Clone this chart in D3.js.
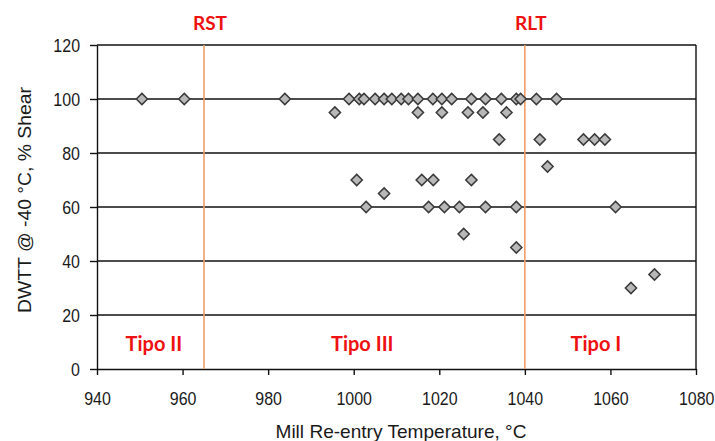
<!DOCTYPE html>
<html><head><meta charset="utf-8">
<script src="https://cdn.jsdelivr.net/npm/d3@7"></script>
<style>
html,body{margin:0;padding:0;background:#fff;}
svg{display:block;}
</style></head>
<body>
<svg id="chart" width="715" height="441"></svg>
<script>
// Data: mill re-entry temperature (°C) and DWTT shear (%)
const temps = [950.5,960.4,983.9,998.9,1001.3,1002.4,1005.0,1007.1,1008.9,1011.1,1012.8,1015.0,1018.5,1020.6,1022.9,1027.5,1030.8,1034.5,1038.0,1039.0,1042.7,1047.4,
  995.6,1015.0,1020.6,1026.7,1030.2,1035.7,
  1034.0,1043.5,1053.7,1056.3,1058.7,
  1045.3,
  1000.7,1015.9,1018.6,1027.5,
  1007.1,
  1002.9,1017.5,1021.2,1024.7,1030.8,1038.0,1061.2,
  1025.7,1038.0,1064.8,1070.3];
const shear = [100,100,100,100,100,100,100,100,100,100,100,100,100,100,100,100,100,100,100,100,100,100,
  95,95,95,95,95,95,
  85,85,85,85,85,
  75,
  70,70,70,70,
  65,
  60,60,60,60,60,60,60,
  50,45,30,35];
const xTicks = [940,960,980,1000,1020,1040,1060,1080];
const yTicks = [0,20,40,60,80,100,120];
const limitNames = ["RST","RLT"];
const limitTemps = [965,1040];
const regionNames = ["Tipo II","Tipo III","Tipo I"];
const regionCenters = [953.3,1002,1056.6];
const xTitle = "Mill Re-entry Temperature, °C";
const yTitle = "DWTT @ -40 °C, % Shear";

const W = 715, H = 441;
const m = {left:97, right:19, top:45, bottom:72};
const svg = d3.select("#chart");
const x = d3.scaleLinear().domain([940,1080]).range([m.left, W-m.right]);
const y = d3.scaleLinear().domain([0,120]).range([H-m.bottom, m.top]);

function condense(sel, factor){
  sel.each(function(){
    const w = this.getComputedTextLength();
    d3.select(this).attr("textLength", w*factor).attr("lengthAdjust","spacingAndGlyphs");
  });
}

// gridlines
svg.append("g").selectAll("line").data(yTicks.filter(d=>d>0)).join("line")
  .attr("x1", x(940)).attr("x2", x(1080))
  .attr("y1", d=>y(d)).attr("y2", d=>y(d))
  .attr("stroke","#111").attr("stroke-width",1.4);
// right border
svg.append("line").attr("x1",x(1080)).attr("x2",x(1080)).attr("y1",y(0)).attr("y2",y(120))
  .attr("stroke","#111").attr("stroke-width",1.4);

// axes
const fontAxis = "'Liberation Sans', Arial, sans-serif";
const xAxis = svg.append("g").attr("transform",`translate(0,${y(0)})`)
  .call(d3.axisBottom(x).tickValues(xTicks).tickFormat(d3.format("d")).tickSize(6).tickSizeOuter(0).tickPadding(17));
const yAxis = svg.append("g").attr("transform",`translate(${x(940)},0)`)
  .call(d3.axisLeft(y).tickValues(yTicks).tickFormat(d3.format("d")).tickSize(7).tickSizeOuter(0).tickPadding(10));
[xAxis,yAxis].forEach(a=>{
  a.select(".domain").attr("stroke","#111").attr("stroke-width",1.4);
  a.selectAll(".tick line").attr("stroke","#111").attr("stroke-width",1.4);
  a.selectAll(".tick text").attr("fill","#1a1a1a").style("font-family",fontAxis).style("font-size","19px")
    .call(condense, 0.84);
});
// keep the last x tick label inside the picture
xAxis.selectAll(".tick text").filter(d=>d===xTicks[xTicks.length-1])
  .attr("text-anchor","end").attr("x", W - 1 - x(xTicks[xTicks.length-1]));

// limit lines
svg.append("g").selectAll("line").data(limitTemps).join("line")
  .attr("x1",d=>x(d)).attr("x2",d=>x(d)).attr("y1",y(0)).attr("y2",y(120))
  .attr("stroke","#f0a068").attr("stroke-width",1.6);
svg.append("g").selectAll("text").data(limitNames).join("text")
  .attr("x",(d,i)=>x(limitTemps[i])+6).attr("y",30)
  .attr("text-anchor","middle").attr("fill","#ee1111")
  .style("font-family","Lato, 'Open Sans', sans-serif").style("font-weight","bold").style("font-size","19px")
  .text(d=>d);

// region labels
svg.append("g").selectAll("text").data(regionNames).join("text")
  .attr("x",(d,i)=>x(regionCenters[i])).attr("y",y(6.5))
  .attr("text-anchor","middle").attr("fill","#ee1111")
  .style("font-family","Lato, 'Open Sans', sans-serif").style("font-weight","bold").style("font-size","20px")
  .text(d=>d);

// points
const sym = d3.symbol().type(d3.symbolDiamond2).size(80);
svg.append("g").selectAll("path").data(temps).join("path")
  .attr("transform",(d,i)=>`translate(${x(d)},${y(shear[i])})`)
  .attr("d", sym)
  .attr("fill","#b8b8b8").attr("stroke","#3a3a3a").attr("stroke-width",1.5);

// titles
svg.append("text").attr("x",401).attr("y",438)
  .attr("text-anchor","middle").attr("fill","#1a1a1a")
  .style("font-family",fontAxis).style("font-size","19px")
  .attr("textLength",251).attr("lengthAdjust","spacingAndGlyphs").text(xTitle);
svg.append("text").attr("transform",`translate(31,200) rotate(-90)`)
  .attr("text-anchor","middle").attr("fill","#1a1a1a")
  .style("font-family",fontAxis).style("font-size","19px")
  .attr("textLength",226).attr("lengthAdjust","spacingAndGlyphs").text(yTitle);
</script>
</body></html>
